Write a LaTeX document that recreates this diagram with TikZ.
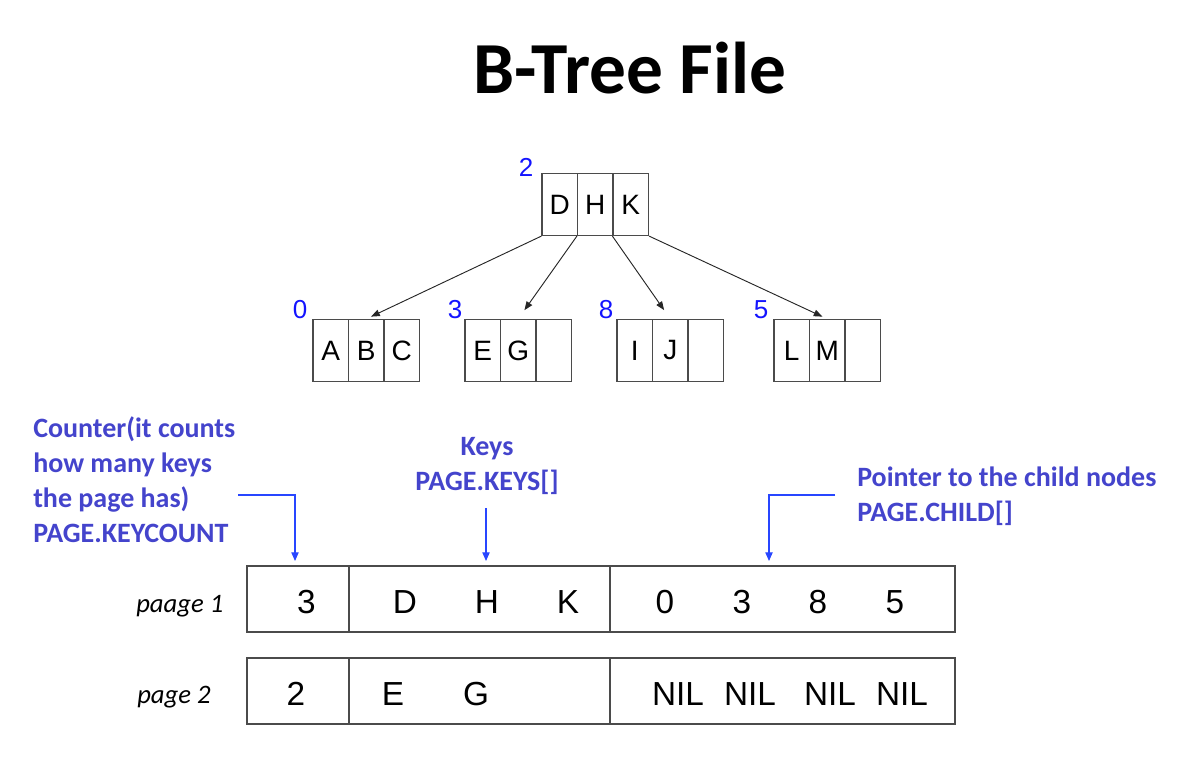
\documentclass[tikz,border=0pt]{standalone}
\usepackage{fontspec}
\setmainfont{Liberation Sans}
\newfontfamily\calfont{Carlito}
\usetikzlibrary{arrows.meta}
\definecolor{lbl}{RGB}{68,68,204}
\definecolor{arr}{RGB}{40,70,255}
\definecolor{num}{RGB}{20,20,255}
\definecolor{edge}{RGB}{75,75,75}
\begin{document}
\begin{tikzpicture}[x=0.75pt,y=-0.75pt,
  cell/.style={draw=edge,line width=0.9pt,minimum width=26.625pt,minimum height=46.5pt,inner sep=0pt,font=\fontsize{21}{25}\selectfont},
  tlabel/.style={text=num,font=\fontsize{19.5}{22}\selectfont,inner sep=0pt},
  treearrow/.style={draw=black!85,line width=0.7pt,-{Triangle[length=6.5pt,width=5pt]}},
  bluetext/.style={text=lbl,font=\calfont\bfseries\fontsize{21}{26.25}\selectfont,inner sep=0pt},
  bluearrow/.style={draw=arr,line width=0.8pt,-{Triangle[length=6.5pt,width=5.5pt]}},
  rowbox/.style={draw=edge,line width=0.9pt,minimum height=49.5pt,inner sep=0pt},
  val/.style={font=\fontsize{25}{30}\selectfont,inner sep=0pt,anchor=base},
  pagelbl/.style={font=\calfont\itshape\fontsize{20}{24}\selectfont,inner sep=0pt,anchor=base west}
]
\useasboundingbox (0,0) rectangle (1196,766);

% title
\node[font=\calfont\bfseries\fontsize{55}{60}\selectfont,inner sep=0pt] (title) at (630,68) {B-Tree File};

% root
\node[cell] (r1) at (559.75,204.5) {D};
\node[cell] (r2) at (595.25,204.5) {H};
\node[cell] (r3) at (630.75,204.5) {K};
\node[tlabel] (n2) at (526,167) {2};

% children
\node[cell] (a1) at (330.75,350.5) {A};
\node[cell] (a2) at (366.25,350.5) {B};
\node[cell] (a3) at (401.75,350.5) {C};
\node[tlabel] (n0) at (300,310) {0};

\node[cell] (b1) at (482.75,350.5) {E};
\node[cell] (b2) at (518.25,350.5) {G};
\node[cell] (b3) at (553.75,350.5) {};
\node[tlabel] (n3) at (455,310) {3};

\node[cell] (c1) at (634.75,350.5) {I};
\node[cell] (c2) at (670.25,350.5) {J};
\node[cell] (c3) at (705.75,350.5) {};
\node[tlabel] (n8) at (606,310) {8};

\node[cell] (d1) at (791.75,350.5) {L};
\node[cell] (d2) at (827.25,350.5) {M};
\node[cell] (d3) at (862.75,350.5) {};
\node[tlabel] (n5) at (761,310) {5};

% tree arrows
\draw[treearrow,shorten >=4pt] (r1.south west) -- (a2.north);
\draw[treearrow,shorten >=8pt] (r2.south west) -- (b2.north);
\draw[treearrow,shorten >=8pt] (r3.south west) -- (c2.north);
\draw[treearrow,shorten >=4pt] (r3.south east) -- (d2.north);

% annotations (base anchor = baseline of last line)
\node[bluetext,anchor=base west,align=left] (cnt) at (33,542)
  {Counter(it counts\\how many keys\\the page has)\\PAGE.KEYCOUNT};
\node[bluetext,anchor=base,align=center] (keys) at (487,490)
  {Keys\\PAGE.KEYS[]};
\node[bluetext,anchor=base west,align=left] (ptr) at (857,521)
  {Pointer to the child nodes\\PAGE.CHILD[]};

% page rows
\node[rowbox,minimum width=76.5pt] (k1) at (298,599) {};
\node[rowbox,minimum width=195.75pt] (s1) at (479.5,599) {};
\node[rowbox,minimum width=258.75pt] (p1) at (782.5,599) {};
\node[rowbox,minimum width=76.5pt] (k2) at (298,691) {};
\node[rowbox,minimum width=195.75pt] (s2) at (479.5,691) {};
\node[rowbox,minimum width=258.75pt] (p2) at (782.5,691) {};

\node[pagelbl] (pl1) at (136,612) {paage 1};
\node[pagelbl] (pl2) at (137,703) {page 2};

\node[val] (v13) at (306.5,613) {3};
\node[val] (v1d) at (405,613) {D};
\node[val] (v1h) at (487,613) {H};
\node[val] (v1k) at (568,613) {K};
\node[val] (v10) at (665,613) {0};
\node[val] (v1c3) at (742,613) {3};
\node[val] (v18) at (818,613) {8};
\node[val] (v15) at (895,613) {5};

\node[val] (v22) at (296,705.5) {2};
\node[val] (v2e) at (393,705.5) {E};
\node[val] (v2g) at (476,705.5) {G};
\node[val] (v2n1) at (678,705.5) {NIL};
\node[val] (v2n2) at (750,705.5) {NIL};
\node[val] (v2n3) at (830,705.5) {NIL};
\node[val] (v2n4) at (902,705.5) {NIL};

% blue arrows
\coordinate (cs) at (238,495);
\coordinate (ct) at (295,561);
\coordinate (ks) at (486,508);
\coordinate (kt) at (486,561);
\coordinate (ps) at (835,495);
\coordinate (pt) at (769,561);
\draw[bluearrow] (cs) -| (ct);
\draw[bluearrow] (ks) -- (kt);
\draw[bluearrow] (ps) -| (pt);
\end{tikzpicture}
\end{document}
